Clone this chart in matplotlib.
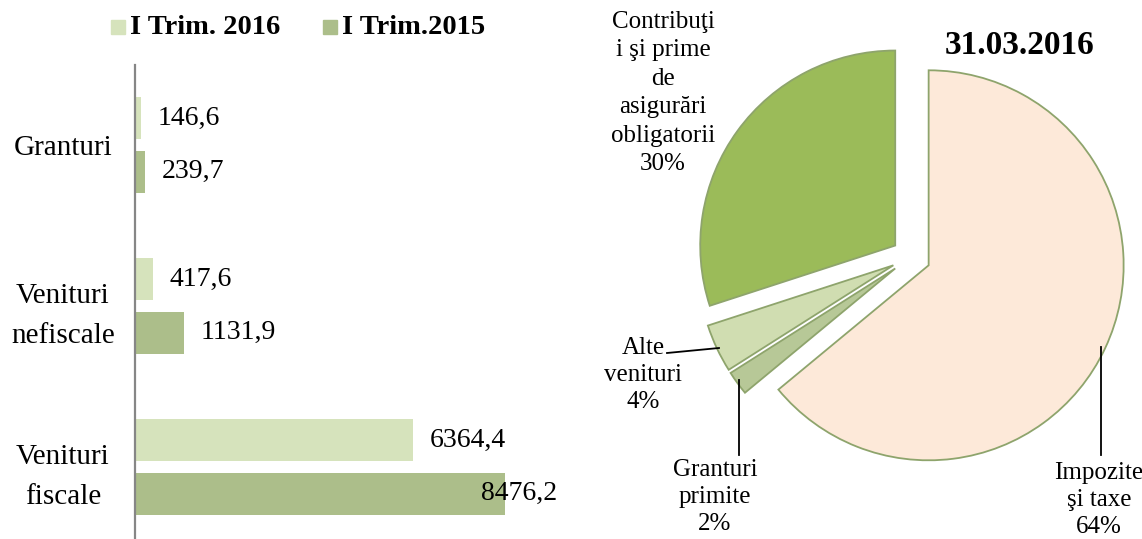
import numpy as np
import matplotlib.pyplot as plt

plt.rcParams['font.family'] = ['Liberation Serif', 'DejaVu Serif']

# bare
categorii = ['Venituri\nfiscale', 'Venituri\nnefiscale', 'Granturi']
trim_2016 = [6364.4, 417.6, 146.6]
trim_2015 = [8476.2, 1131.9, 239.7]
serii = ['I Trim. 2016', 'I Trim.2015']

# pie
felii = ['Impozite\nşi taxe\n64%', 'Granturi\nprimite\n2%', 'Alte\nvenituri\n4%',
         'Contribuţi\ni şi prime\nde\nasigurări\nobligatorii\n30%']
procente = [64, 2, 4, 30]
titlu = '31.03.2016'

W, H = 1142, 539
fig = plt.figure(figsize=(W / 100, H / 100), dpi=100)

c16 = '#D6E3BC'
c15 = '#ACBE8A'

# ---- bar chart ----
ax = fig.add_axes([135 / W, 0, (557 - 135) / W, (539 - 65) / H])
y = np.arange(len(categorii))
h = 0.261
off = 0.166
ax.barh(y + off, trim_2016, height=h, color=c16)
ax.barh(y - off, trim_2015, height=h, color=c15)
xmax = 9668
ax.set_xlim(0, xmax)
ax.set_ylim(-0.447, 2.497)

for yy, vals in [(y + off, trim_2016), (y - off, trim_2015)]:
    for yi, v in zip(yy, vals):
        s = f'{v:.1f}'.replace('.', ',')
        if v > 0.8 * xmax:
            ax.text(xmax, yi, s, ha='right', va='center', fontsize=20, clip_on=False)
        else:
            ax.annotate(s, (v, yi), xytext=(12, 0), textcoords='offset points',
                        ha='left', va='center', fontsize=20)

ax.set_yticks(y)
ax.set_yticklabels(categorii, ha='center', fontsize=21, linespacing=1.7)
ax.tick_params(axis='y', length=0, pad=52)
ax.set_xticks([])
for s in ['top', 'right', 'bottom']:
    ax.spines[s].set_visible(False)
ax.spines['left'].set_color('#868686')
ax.spines['left'].set_linewidth(1.6)

# legend
fig.patches.append(plt.Rectangle((111 / W, 1 - 34 / H), 14 / W, 14 / H,
                                 transform=fig.transFigure, color=c16))
fig.text(130 / W, 1 - 27 / H, serii[0], fontsize=20.5, fontweight='bold', va='center')
fig.patches.append(plt.Rectangle((323 / W, 1 - 34 / H), 14 / W, 14 / H,
                                 transform=fig.transFigure, color=c15))
fig.text(342 / W, 1 - 27 / H, serii[1], fontsize=20.5, fontweight='bold', va='center')

# ---- pie ----
R = 195.0
cx, cy = 911, 257
ax2 = fig.add_axes([(cx - 231) / W, 0, 462 / W, 1])
culori = ['#FDE9D9', '#B7C897', '#D0DDB1', '#9BBB59']
ax2.pie(procente, colors=culori, startangle=90, counterclock=False,
        explode=[0.1] * 4, radius=1,
        wedgeprops=dict(edgecolor='#8EA46C', linewidth=1.3))
ax2.set_xlim(-231 / R, 231 / R)
ax2.set_ylim(-(H - cy) / R, cy / R)
ax2.set_aspect('auto')
ax2.axis('off')


def px(x, yv):
    return ((x - cx) / R, (cy - yv) / R)


lab_pos = [(1099, 500), (715, 497), (643, 375), (663, 93)]
lab_ls = [1.28, 1.3, 1.3, 1.38]
for t, p, ls in zip(felii, lab_pos, lab_ls):
    ax2.text(*px(*p), t, ha='center', va='center', fontsize=18, linespacing=ls)

# leader lines
for (x0, y0), (x1, y1) in [((1101, 347), (1101, 455)), ((739, 380), (739, 455)),
                           ((667, 353), (719, 348))]:
    a, b = px(x0, y0)
    c, d = px(x1, y1)
    ax2.plot([a, c], [b, d], color='black', lw=1.3, clip_on=False)

fig.text(1020 / W, 1 - 45 / H, titlu, fontsize=24, fontweight='bold', ha='center', va='center')

fig.savefig('out.png', dpi=100)
